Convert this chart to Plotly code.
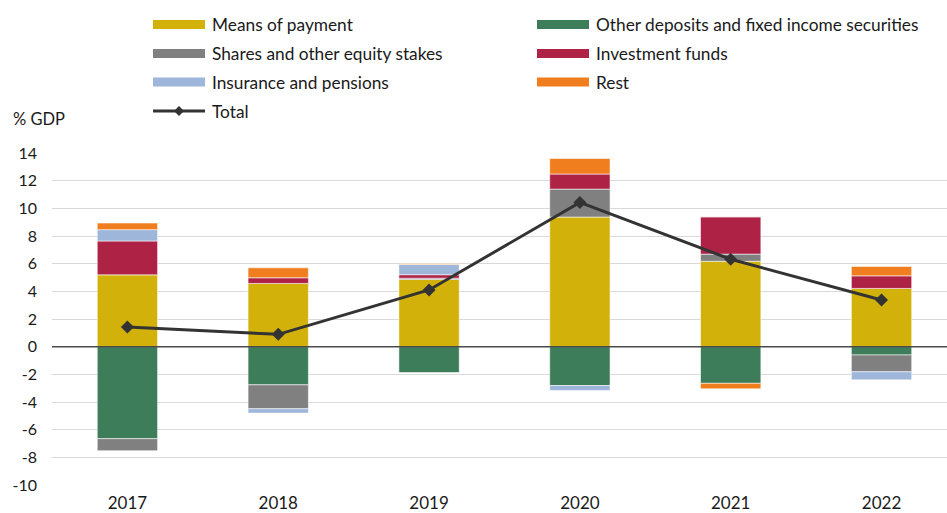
import plotly.graph_objects as go

# Household financial asset flows, % of GDP
years = ["2017", "2018", "2019", "2020", "2021", "2022"]

means_of_payment = [5.19, 4.57, 4.86, 9.37, 6.17, 4.21]
other_deposits = [-6.65, -2.76, -1.87, -2.81, -2.65, -0.60]
shares_equity = [-0.87, -1.73, 0.09, 2.02, 0.52, -1.22]
investment_funds = [2.45, 0.41, 0.25, 1.09, 2.70, 0.91]
insurance_pensions = [0.82, -0.31, 0.74, -0.36, 0.00, -0.58]
rest = [0.48, 0.72, 0.05, 1.12, -0.40, 0.68]
total = [1.42, 0.89, 4.10, 10.43, 6.32, 3.37]

y_ticks = list(range(-10, 15, 2))

series = [
    ("Means of payment", means_of_payment, "#D2B20A"),
    ("Other deposits and fixed income securities", other_deposits, "#3D7D5A"),
    ("Shares and other equity stakes", shares_equity, "#808080"),
    ("Investment funds", investment_funds, "#AE2246"),
    ("Insurance and pensions", insurance_pensions, "#9DB6D9"),
    ("Rest", rest, "#F07E1F"),
]
total_name = "Total"
total_color = "#333333"

FONT = "Lato"
W, H = 947, 513
PLOT_L, PLOT_R = 52, 947
PLOT_T, PLOT_B = 153, 485

fig = go.Figure()
for name, vals, color in series:
    fig.add_trace(go.Bar(
        x=years, y=vals, name=name,
        marker=dict(color=color, line=dict(color="rgba(255,255,255,0.55)", width=1)),
        showlegend=False,
    ))

fig.add_trace(go.Scatter(
    x=years, y=total, name=total_name, mode="lines+markers",
    line=dict(color=total_color, width=3),
    marker=dict(symbol="diamond", size=10, color=total_color),
    showlegend=False,
))


def px_x(px):
    return (px - PLOT_L) / (PLOT_R - PLOT_L)


def px_y(py):
    return (PLOT_B - py) / (PLOT_B - PLOT_T)


shapes = []
annotations = []

# zero line over the bars
shapes.append(dict(type="line", xref="paper", yref="y", x0=0, x1=1, y0=0, y1=0,
                   line=dict(color="#4a4a4a", width=1.5), layer="above"))

# legend: two columns of wide swatches, then the Total line
rows_y = [24.5, 53.5, 82.0]
cols = [(153, 205, 210), (537, 589, 594)]
for i, (name, vals, color) in enumerate(series):
    col = cols[i % 2]
    cy = rows_y[i // 2]
    shapes.append(dict(type="rect", xref="paper", yref="paper",
                       x0=px_x(col[0]), x1=px_x(col[1]),
                       y0=px_y(cy + 4.5), y1=px_y(cy - 4.5),
                       fillcolor=color, line=dict(width=0)))
    annotations.append(dict(xref="paper", yref="paper", x=px_x(col[2]), y=px_y(cy),
                            text=name, showarrow=False, xanchor="left", yanchor="middle",
                            font=dict(family=FONT, size=17.3, color="#1a1a1a")))

ty = 111.0
shapes.append(dict(type="line", xref="paper", yref="paper",
                   x0=px_x(153), x1=px_x(205), y0=px_y(ty), y1=px_y(ty),
                   line=dict(color=total_color, width=3)))
shapes.append(dict(type="path", xref="paper", yref="paper",
                   path="M {a},{m} L {b},{t} L {c},{m} L {b},{bt} Z".format(
                       a=px_x(174), b=px_x(179), c=px_x(184),
                       m=px_y(ty), t=px_y(ty - 5), bt=px_y(ty + 5)),
                   fillcolor=total_color, line=dict(width=0)))
annotations.append(dict(xref="paper", yref="paper", x=px_x(210), y=px_y(ty),
                        text=total_name, showarrow=False, xanchor="left", yanchor="middle",
                        font=dict(family=FONT, size=17.3, color="#1a1a1a")))

annotations.append(dict(xref="paper", yref="paper", x=px_x(11), y=px_y(119),
                        text="% GDP", showarrow=False, xanchor="left", yanchor="middle",
                        font=dict(family=FONT, size=16.5, color="#1a1a1a")))

fig.update_layout(
    width=W, height=H,
    margin=dict(l=PLOT_L, r=W - PLOT_R, t=PLOT_T, b=H - PLOT_B, pad=0, autoexpand=False),
    barmode="relative",
    bargap=0.6,
    plot_bgcolor="white",
    paper_bgcolor="white",
    font=dict(family=FONT, size=16, color="#1a1a1a"),
    shapes=shapes,
    annotations=annotations,
    showlegend=False,
)

fig.update_xaxes(
    type="category",
    range=[-0.5, (PLOT_R - 127) / 150.9],
    showgrid=False, showline=False, zeroline=False,
    ticks="", tickfont=dict(family=FONT, size=17, color="#1a1a1a"),
    ticklabelstandoff=6,
    automargin=False,
)
fig.update_yaxes(
    range=[-10, 14],
    tickvals=y_ticks,
    ticktext=[str(v) for v in y_ticks],
    showgrid=True, gridcolor="#d9d9d9", gridwidth=1.2,
    zeroline=False, showline=False, ticks="",
    tickfont=dict(family=FONT, size=16, color="#1a1a1a"),
    ticklabelstandoff=14,
    automargin=False,
)

fig.write_html("out.html")
